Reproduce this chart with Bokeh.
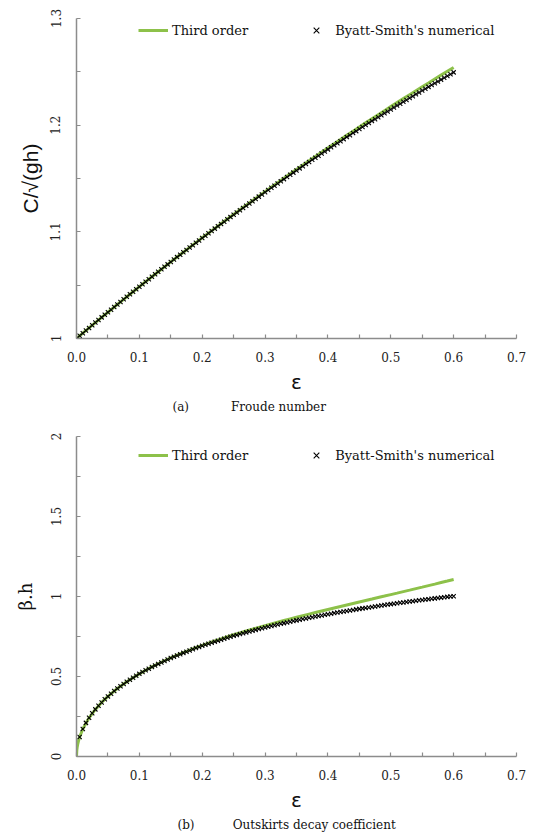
from bokeh.plotting import figure
from bokeh.models import Range1d, FixedTicker, Legend, LegendItem, NumeralTickFormatter, Title
from bokeh.layouts import column
from bokeh.embed import file_html
from bokeh.resources import INLINE

# ---------------- data ----------------
eps_line = [0.00, 0.01, 0.02, 0.03, 0.04, 0.05, 0.06, 0.07, 0.08, 0.09,
            0.10, 0.11, 0.12, 0.13, 0.14, 0.15, 0.16, 0.17, 0.18, 0.19,
            0.20, 0.21, 0.22, 0.23, 0.24, 0.25, 0.26, 0.27, 0.28, 0.29,
            0.30, 0.31, 0.32, 0.33, 0.34, 0.35, 0.36, 0.37, 0.38, 0.39,
            0.40, 0.41, 0.42, 0.43, 0.44, 0.45, 0.46, 0.47, 0.48, 0.49,
            0.50, 0.51, 0.52, 0.53, 0.54, 0.55, 0.56, 0.57, 0.58, 0.59, 0.60]

froude_third = [1.0000, 1.0050, 1.0099, 1.0149, 1.0198, 1.0246, 1.0295, 1.0343, 1.0391, 1.0438,
                1.0486, 1.0533, 1.0579, 1.0626, 1.0672, 1.0718, 1.0764, 1.0809, 1.0854, 1.0899,
                1.0944, 1.0988, 1.1032, 1.1076, 1.1120, 1.1163, 1.1207, 1.1249, 1.1292, 1.1335,
                1.1377, 1.1419, 1.1461, 1.1502, 1.1544, 1.1585, 1.1625, 1.1666, 1.1706, 1.1747,
                1.1787, 1.1826, 1.1866, 1.1905, 1.1944, 1.1983, 1.2022, 1.2060, 1.2098, 1.2136,
                1.2174, 1.2212, 1.2249, 1.2286, 1.2323, 1.2360, 1.2396, 1.2433, 1.2469, 1.2505, 1.2541]

eps_pts = [0.000, 0.005, 0.010, 0.015, 0.020, 0.025, 0.030, 0.035, 0.040, 0.045,
           0.050, 0.055, 0.060, 0.065, 0.070, 0.075, 0.080, 0.085, 0.090, 0.095,
           0.100, 0.105, 0.110, 0.115, 0.120, 0.125, 0.130, 0.135, 0.140, 0.145,
           0.150, 0.155, 0.160, 0.165, 0.170, 0.175, 0.180, 0.185, 0.190, 0.195,
           0.200, 0.205, 0.210, 0.215, 0.220, 0.225, 0.230, 0.235, 0.240, 0.245,
           0.250, 0.255, 0.260, 0.265, 0.270, 0.275, 0.280, 0.285, 0.290, 0.295,
           0.300, 0.305, 0.310, 0.315, 0.320, 0.325, 0.330, 0.335, 0.340, 0.345,
           0.350, 0.355, 0.360, 0.365, 0.370, 0.375, 0.380, 0.385, 0.390, 0.395,
           0.400, 0.405, 0.410, 0.415, 0.420, 0.425, 0.430, 0.435, 0.440, 0.445,
           0.450, 0.455, 0.460, 0.465, 0.470, 0.475, 0.480, 0.485, 0.490, 0.495,
           0.500, 0.505, 0.510, 0.515, 0.520, 0.525, 0.530, 0.535, 0.540, 0.545,
           0.550, 0.555, 0.560, 0.565, 0.570, 0.575, 0.580, 0.585, 0.590, 0.595, 0.600]

froude_num = [1.0000, 1.0025, 1.0050, 1.0074, 1.0099, 1.0124, 1.0149, 1.0173, 1.0198, 1.0222,
              1.0246, 1.0270, 1.0295, 1.0319, 1.0343, 1.0367, 1.0391, 1.0414, 1.0438, 1.0462,
              1.0486, 1.0509, 1.0533, 1.0556, 1.0579, 1.0602, 1.0626, 1.0649, 1.0672, 1.0695,
              1.0717, 1.0740, 1.0763, 1.0785, 1.0808, 1.0830, 1.0853, 1.0875, 1.0898, 1.0919,
              1.0942, 1.0964, 1.0986, 1.1008, 1.1030, 1.1052, 1.1073, 1.1095, 1.1117, 1.1138,
              1.1160, 1.1181, 1.1203, 1.1224, 1.1245, 1.1266, 1.1287, 1.1308, 1.1330, 1.1351,
              1.1371, 1.1392, 1.1413, 1.1433, 1.1454, 1.1474, 1.1494, 1.1515, 1.1536, 1.1555,
              1.1576, 1.1595, 1.1615, 1.1635, 1.1655, 1.1675, 1.1694, 1.1714, 1.1734, 1.1754,
              1.1773, 1.1792, 1.1811, 1.1831, 1.1850, 1.1869, 1.1888, 1.1906, 1.1926, 1.1944,
              1.1964, 1.1982, 1.2001, 1.2020, 1.2038, 1.2056, 1.2074, 1.2093, 1.2111, 1.2129,
              1.2147, 1.2165, 1.2184, 1.2201, 1.2219, 1.2236, 1.2254, 1.2271, 1.2289, 1.2307,
              1.2325, 1.2342, 1.2359, 1.2376, 1.2393, 1.2410, 1.2427, 1.2444, 1.2461, 1.2478, 1.2495]

eps_line_b = [0.0, 0.0005, 0.001, 0.002, 0.003, 0.005,
              0.01, 0.02, 0.03, 0.04, 0.05, 0.06, 0.07, 0.08, 0.09,
              0.10, 0.11, 0.12, 0.13, 0.14, 0.15, 0.16, 0.17, 0.18, 0.19,
              0.20, 0.21, 0.22, 0.23, 0.24, 0.25, 0.26, 0.27, 0.28, 0.29,
              0.30, 0.31, 0.32, 0.33, 0.34, 0.35, 0.36, 0.37, 0.38, 0.39,
              0.40, 0.41, 0.42, 0.43, 0.44, 0.45, 0.46, 0.47, 0.48, 0.49,
              0.50, 0.51, 0.52, 0.53, 0.54, 0.55, 0.56, 0.57, 0.58, 0.59, 0.60]

beta_third = [0.0, 0.0387, 0.0547, 0.0774, 0.0947, 0.1221,
              0.1721, 0.2419, 0.2945, 0.3381, 0.3757, 0.4092, 0.4395, 0.4671, 0.4927,
              0.5165, 0.5388, 0.5598, 0.5796, 0.5984, 0.6163, 0.6334, 0.6497, 0.6654, 0.6805,
              0.6950, 0.7090, 0.7225, 0.7356, 0.7484, 0.7607, 0.7728, 0.7845, 0.7960, 0.8072,
              0.8182, 0.8289, 0.8395, 0.8499, 0.8601, 0.8702, 0.8801, 0.8899, 0.8997, 0.9093,
              0.9188, 0.9283, 0.9377, 0.9470, 0.9563, 0.9656, 0.9749, 0.9841, 0.9934, 1.0026,
              1.0119, 1.0211, 1.0304, 1.0397, 1.0491, 1.0585, 1.0680, 1.0775, 1.0871, 1.0967, 1.1064]

eps_pts_b = eps_pts[1:]

beta_num = [0.1221, 0.1721, 0.2102, 0.2419, 0.2697, 0.2945, 0.3172, 0.3381, 0.3575, 0.3757,
            0.3927, 0.4092, 0.4246, 0.4395, 0.4535, 0.4671, 0.4800, 0.4927, 0.5047, 0.5165,
            0.5276, 0.5386, 0.5490, 0.5593, 0.5691, 0.5788, 0.5881, 0.5974, 0.6062, 0.6150,
            0.6234, 0.6317, 0.6397, 0.6476, 0.6553, 0.6629, 0.6703, 0.6776, 0.6846, 0.6916,
            0.6983, 0.7050, 0.7115, 0.7179, 0.7241, 0.7303, 0.7364, 0.7424, 0.7482, 0.7540,
            0.7596, 0.7651, 0.7705, 0.7758, 0.7811, 0.7863, 0.7914, 0.7964, 0.8013, 0.8062,
            0.8109, 0.8155, 0.8201, 0.8247, 0.8292, 0.8336, 0.8380, 0.8423, 0.8466, 0.8508,
            0.8548, 0.8588, 0.8627, 0.8666, 0.8705, 0.8744, 0.8782, 0.8819, 0.8856, 0.8892,
            0.8927, 0.8962, 0.8996, 0.9030, 0.9063, 0.9096, 0.9129, 0.9162, 0.9195, 0.9227,
            0.9258, 0.9288, 0.9318, 0.9347, 0.9377, 0.9407, 0.9436, 0.9465, 0.9494, 0.9523,
            0.9550, 0.9577, 0.9604, 0.9631, 0.9658, 0.9684, 0.9710, 0.9736, 0.9761, 0.9786,
            0.9811, 0.9835, 0.9859, 0.9883, 0.9907, 0.9930, 0.9953, 0.9976, 0.9999, 1.0021]

x_ticks = [0.0, 0.1, 0.2, 0.3, 0.4, 0.5, 0.6, 0.7]
x_minor = [0.05, 0.15, 0.25, 0.35, 0.45, 0.55, 0.65]
ya_ticks = [1.0, 1.1, 1.2, 1.3]
ya_minor = [1.05, 1.15, 1.25]
yb_ticks = [0.0, 0.5, 1.0, 1.5, 2.0]
yb_minor = [0.25, 0.75, 1.25, 1.75]

GREEN = "#8DC14A"
AXIS = "#8c8c8c"
SERIF = "DejaVu Serif"
NB = "\u00a0"


def make_panel(height, top, bottom, y0, y1, yt, ym, ylabel, ylabel_font, ylabel_size,
               ylabel_standoff, xs_l, ys_l, xs_p, ys_p, leg_y, caption, cap_offset):
    p = figure(width=533, height=height, output_backend="svg", toolbar_location=None,
               x_range=Range1d(0, 0.7), y_range=Range1d(y0, y1),
               min_border_left=76, min_border_right=17,
               min_border_top=top, min_border_bottom=bottom)
    p.outline_line_color = None
    p.grid.visible = False
    p.background_fill_color = "white"
    p.border_fill_color = "white"

    r_line = p.line(xs_l, ys_l, line_color=GREEN, line_width=3)
    r_pts = p.scatter(xs_p, ys_p, marker="x", size=6, line_color="black", line_width=1.1)

    xa = p.xaxis[0]
    xa.ticker = FixedTicker(ticks=x_ticks, minor_ticks=x_minor)
    xa.formatter = NumeralTickFormatter(format="0.0")
    xa.axis_label = "ε"
    xa.axis_label_text_font = "DejaVu Sans"
    xa.axis_label_text_font_size = "20px"
    xa.axis_label_text_font_style = "normal"
    xa.axis_label_text_color = "#111"
    xa.axis_label_standoff = 5
    xa.major_label_standoff = 13

    ya = p.yaxis[0]
    ya.ticker = FixedTicker(ticks=yt, minor_ticks=ym)
    ya.formatter = NumeralTickFormatter(format="0.[0]")
    ya.major_label_orientation = "vertical"
    ya.axis_label = ylabel
    ya.axis_label_text_font = ylabel_font
    ya.axis_label_text_font_size = ylabel_size
    ya.axis_label_text_font_style = "normal"
    ya.axis_label_text_color = "#111"
    ya.axis_label_standoff = ylabel_standoff
    ya.major_label_standoff = 16

    for ax in (xa, ya):
        ax.axis_line_color = AXIS
        ax.axis_line_width = 1.5
        ax.major_tick_line_color = AXIS
        ax.minor_tick_line_color = AXIS
        ax.major_tick_line_width = 1.2
        ax.minor_tick_line_width = 1.2
        ax.major_tick_in = 4
        ax.major_tick_out = 0
        ax.minor_tick_in = 4
        ax.minor_tick_out = 0
        ax.major_label_text_font = SERIF
        ax.major_label_text_font_size = "12px"
        ax.major_label_text_color = "#222"

    legend = Legend(items=[LegendItem(label="Third order", renderers=[r_line]),
                           LegendItem(label="Byatt-Smith's numerical", renderers=[r_pts])],
                    location=(62, leg_y), orientation="horizontal",
                    border_line_color=None, background_fill_alpha=0,
                    padding=0, margin=0, spacing=53, glyph_width=30, glyph_height=20,
                    label_standoff=4, label_height=20,
                    label_text_font=SERIF, label_text_font_size="13px",
                    label_text_color="#111")
    p.add_layout(legend)

    p.add_layout(Title(text=caption, align="left", offset=cap_offset, standoff=3,
                       text_font=SERIF, text_font_size="12px", text_font_style="normal",
                       text_color="#111"), "below")
    return p


pa = make_panel(418, 18, 80, 1.0, 1.3, ya_ticks, ya_minor, "C/√(gh)", "Liberation Sans", "21px", 6,
                eps_line, froude_third, eps_pts, froude_num, 298,
                "(a)" + NB * 11 + "Froude number", 96)
pb = make_panel(415, 18, 77, 0.0, 2.0, yb_ticks, yb_minor, "β.h", SERIF, "18px", 12,
                eps_line_b, beta_third, eps_pts_b, beta_num, 291,
                "(b)" + NB * 10 + "Outskirts decay coefficient", 101)

layout = column(pa, pb, spacing=0)
open("out.html", "w").write(file_html(layout, INLINE))
